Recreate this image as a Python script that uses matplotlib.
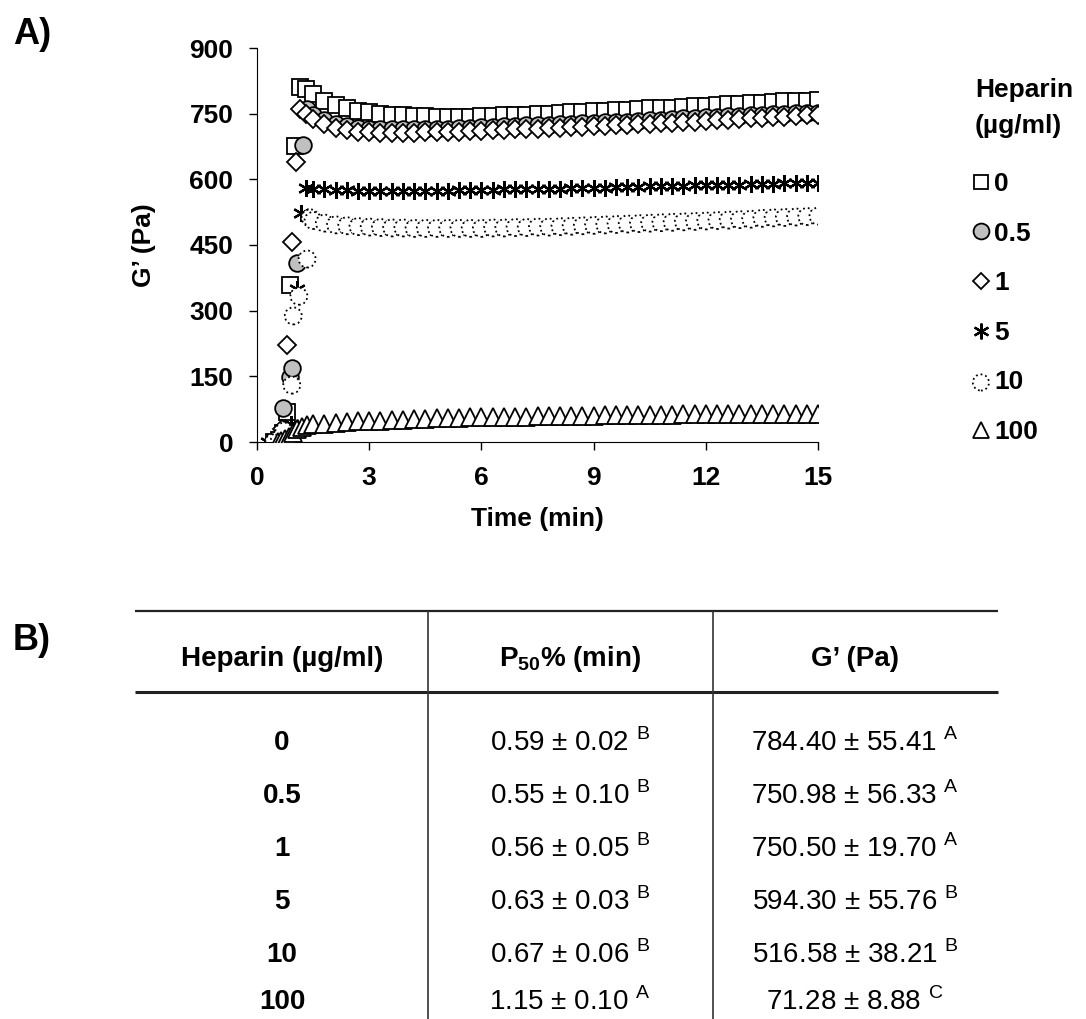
# G' vs time for fibrin gels with heparin + summary table
import matplotlib
matplotlib.use("Agg")
import matplotlib.pyplot as plt

plt.rcParams["font.family"] = ["Liberation Sans", "DejaVu Sans"]
plt.rcParams["mathtext.fontset"] = "custom"
plt.rcParams["mathtext.rm"] = "Liberation Sans"
plt.rcParams["mathtext.bf"] = "Liberation Sans:bold"

# ---- data ----
t_plateau = [1.5, 1.8, 2.1, 2.4, 2.7, 3.0, 3.3, 3.6, 3.9, 4.2, 4.5, 4.8, 5.1, 5.4, 5.7,
             6.0, 6.3, 6.6, 6.9, 7.2, 7.5, 7.8, 8.1, 8.4, 8.7, 9.0, 9.3, 9.6, 9.9, 10.2,
             10.5, 10.8, 11.1, 11.4, 11.7, 12.0, 12.3, 12.6, 12.9, 13.2, 13.5, 13.8, 14.1,
             14.4, 14.7, 15.0]

t_early_0 = [0.45, 0.6, 0.7, 0.8, 0.88, 1.02, 1.15, 1.3]
g_early_0 = [0, 5, 20, 68, 358, 676, 812, 806]
g_plat_0 = [794, 780, 770, 763, 757, 753, 750, 748, 746, 745, 744, 743, 743, 743, 743,
            744, 745, 746, 747, 748, 749, 750, 751, 753, 754, 755, 756, 758, 759, 760,
            762, 763, 764, 766, 767, 768, 770, 771, 772, 774, 775, 776, 778, 779, 780, 782]

t_early_05 = [0.5, 0.62, 0.7, 0.88, 0.93, 1.07, 1.23, 1.35]
g_early_05 = [0, 10, 77, 148, 170, 410, 678, 760]
g_plat_05 = [748, 736, 727, 721, 717, 715, 714, 714, 714, 714, 715, 715, 716, 717, 718,
             719, 720, 721, 722, 723, 724, 725, 726, 727, 728, 729, 730, 731, 732, 734,
             735, 736, 737, 739, 740, 742, 743, 744, 745, 747, 748, 749, 750, 751, 751, 752]

t_early_1 = [0.55, 0.68, 0.8, 0.93, 1.03, 1.15, 1.3]
g_early_1 = [0, 30, 222, 457, 640, 760, 750]
g_plat_1 = [738, 726, 718, 712, 709, 707, 706, 706, 706, 706, 707, 707, 708, 709, 710,
            711, 712, 713, 714, 715, 716, 717, 718, 719, 720, 721, 722, 723, 724, 726,
            727, 728, 729, 731, 732, 734, 735, 736, 737, 739, 740, 742, 743, 745, 746, 748]

t_early_5 = [0.3, 0.4, 0.5, 0.62, 0.75, 0.9, 1.07, 1.17, 1.3]
g_early_5 = [0, 2, 4, 6, 10, 40, 350, 523, 580]
g_plat_5 = [579, 577, 576, 575, 574, 574, 573, 573, 573, 573, 574, 574, 574, 575, 575,
            576, 576, 577, 577, 578, 578, 579, 579, 580, 580, 581, 581, 582, 582, 583,
            584, 584, 585, 585, 586, 587, 587, 588, 588, 589, 589, 590, 591, 591, 592, 592]

t_early_10 = [0.45, 0.6, 0.72, 0.93, 0.97, 1.12, 1.34, 1.42]
g_early_10 = [0, 5, 25, 130, 288, 333, 418, 512]
g_plat_10 = [506, 500, 496, 494, 492, 491, 490, 489, 489, 488, 488, 488, 488, 488, 488,
             488, 489, 489, 490, 490, 491, 491, 492, 493, 494, 495, 496, 497, 498, 499,
             500, 501, 502, 503, 504, 505, 506, 507, 508, 509, 511, 512, 513, 514, 515, 516]

t_early_100 = [0.55, 0.65, 0.75, 0.85, 0.95, 1.07, 1.2, 1.35]
g_early_100 = [0, 2, 6, 12, 20, 30, 35, 38]
g_plat_100 = [40, 42, 44, 46, 47, 48, 49, 50, 51, 52, 53, 54, 54, 55, 56,
              56, 57, 57, 58, 58, 59, 59, 59, 60, 60, 60, 61, 61, 61, 62,
              62, 62, 62, 63, 63, 63, 63, 64, 64, 64, 64, 64, 65, 65, 65, 65]

# ---- table ----
heparin = ["0", "0.5", "1", "5", "10", "100"]
p50_mean = ["0.59", "0.55", "0.56", "0.63", "0.67", "1.15"]
p50_sd = ["0.02", "0.10", "0.05", "0.03", "0.06", "0.10"]
p50_grp = ["B", "B", "B", "B", "B", "A"]
g_mean = ["784.40", "750.98", "750.50", "594.30", "516.58", "71.28"]
g_sd = ["55.41", "56.33", "19.70", "55.76", "38.21", "8.88"]
g_grp = ["A", "A", "A", "B", "B", "C"]

W, H = 1086, 1019
fig = plt.figure(figsize=(W / 100, H / 100), dpi=100)
ax = fig.add_axes([257 / W, 1 - 442 / H, 561 / W, 394 / H])

handles = []
h, = ax.plot(t_early_0 + t_plateau, g_early_0 + g_plat_0, "s", ms=11, mfc="white",
             mec="black", mew=1.3, ls="none", zorder=3)
handles.append(h)
h, = ax.plot(t_early_05 + t_plateau, g_early_05 + g_plat_05, "o", ms=12, mfc="#c0c0c0",
             mec="black", mew=1.3, ls="none", zorder=4)
handles.append(h)
h, = ax.plot(t_early_1 + t_plateau, g_early_1 + g_plat_1, "D", ms=9, mfc="white",
             mec="black", mew=1.3, ls="none", zorder=5)
handles.append(h)
h, = ax.plot(t_early_5 + t_plateau, g_early_5 + g_plat_5, marker=(6, 2, 0), ms=12,
             mec="black", mew=1.6, ls="none", zorder=6)
handles.append(h)
h = ax.scatter(t_early_10 + t_plateau, g_early_10 + g_plat_10, s=150, marker="o",
               facecolors="white", edgecolors="black", linewidths=1.3,
               linestyles=":", zorder=7)
handles.append(h)
h, = ax.plot(t_early_100 + t_plateau, g_early_100 + g_plat_100, "^", ms=12.5, mfc="white",
             mec="black", mew=1.3, ls="none", zorder=8)
handles.append(h)

ax.set_xlim(0, 15)
ax.set_ylim(0, 900)
ax.set_xticks([0, 3, 6, 9, 12, 15])
ax.set_yticks([0, 150, 300, 450, 600, 750, 900])
for s in ["top", "right"]:
    ax.spines[s].set_visible(False)
ax.tick_params(axis="both", direction="out", length=6, width=1, labelsize=19, pad=11)
for lab in ax.get_xticklabels() + ax.get_yticklabels():
    lab.set_fontweight("bold")
ax.set_xlabel("Time (min)", fontsize=19, fontweight="bold")
ax.set_ylabel("G\u2019 (Pa)", fontsize=19, fontweight="bold")
ax.xaxis.set_label_coords(0.5, -0.165)
ax.yaxis.set_label_coords(-0.18, 0.5)

fig.text(975 / W, 1 - 108 / H, "Heparin\n(\u00b5g/ml)", fontsize=19, fontweight="bold",
         ha="left", va="center", linespacing=1.6)
leg = ax.legend(handles, heparin, loc="upper left", bbox_to_anchor=(973 / W, 1 - 172 / H),
                bbox_transform=fig.transFigure, frameon=False, borderpad=0,
                borderaxespad=0, handlelength=0.6, handletextpad=0.2, labelspacing=0.97,
                markerscale=0.95, prop={"size": 19, "weight": "bold"})

fig.text(13 / W, 1 - 35 / H, "A)", fontsize=26, fontweight="bold", va="center")
fig.text(13 / W, 1 - 641 / H, "B)", fontsize=26, fontweight="bold", va="center")

# table drawn in pixel coordinates
tab = fig.add_axes([0, 0, 1, 1])
tab.set_xlim(0, W)
tab.set_ylim(H, 0)
tab.axis("off")
tab.hlines(611, 135, 998, color="#222222", lw=1.6)
tab.hlines(692, 135, 998, color="#222222", lw=2.2)
tab.vlines([428, 713], 611, H, color="#333333", lw=1.2)

col_x = [282, 570, 855]
tab.text(col_x[0], 659, "Heparin (\u00b5g/ml)", fontsize=20, fontweight="bold",
         ha="center", va="center")
tab.text(col_x[1], 659, r"P$_{\mathbf{50}}$% (min)", fontsize=20, fontweight="bold",
         ha="center", va="center")
tab.text(col_x[2], 659, "G\u2019 (Pa)", fontsize=20, fontweight="bold",
         ha="center", va="center")

row_y = [743, 796, 849, 902, 955, 1002]
for i in range(len(heparin)):
    y = row_y[i]
    tab.text(col_x[0], y, heparin[i], fontsize=20, fontweight="bold", ha="center", va="center")
    tab.text(col_x[1], y, f"{p50_mean[i]} \u00b1 {p50_sd[i]} $^{{\\mathrm{{{p50_grp[i]}}}}}$",
             fontsize=20, ha="center", va="center")
    tab.text(col_x[2], y, f"{g_mean[i]} \u00b1 {g_sd[i]} $^{{\\mathrm{{{g_grp[i]}}}}}$",
             fontsize=20, ha="center", va="center")

fig.savefig("out.png", dpi=100)
